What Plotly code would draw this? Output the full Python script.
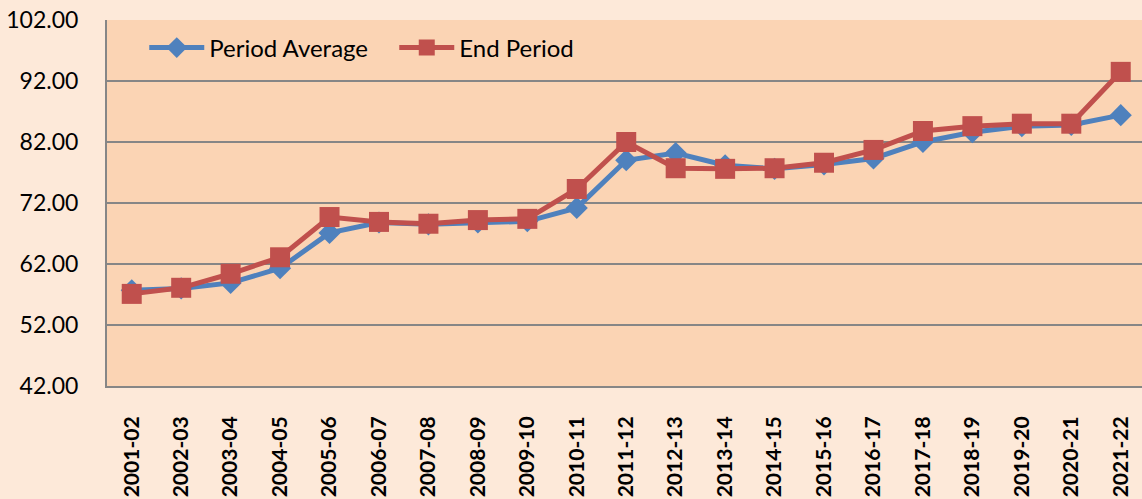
import plotly.graph_objects as go

years = ["2001-02", "2002-03", "2003-04", "2004-05", "2005-06", "2006-07", "2007-08",
         "2008-09", "2009-10", "2010-11", "2011-12", "2012-13", "2013-14", "2014-15",
         "2015-16", "2016-17", "2017-18", "2018-19", "2019-20", "2020-21", "2021-22"]
period_average = [57.7, 58.0, 58.9, 61.3, 67.1, 68.8, 68.5, 68.8, 69.0, 71.2, 79.0,
                  80.2, 78.2, 77.6, 78.3, 79.3, 82.0, 83.6, 84.6, 84.8, 86.4]
end_period = [57.1, 58.1, 60.4, 63.1, 69.7, 68.9, 68.6, 69.2, 69.4, 74.3, 82.0,
              77.7, 77.6, 77.7, 78.6, 80.7, 83.8, 84.6, 85.0, 85.0, 93.5]
y_ticks = [42, 52, 62, 72, 82, 92, 102]

fig = go.Figure()
fig.add_trace(go.Scatter(x=years, y=period_average, name="Period Average",
                         mode="lines+markers",
                         line=dict(color="#4F81BD", width=5),
                         marker=dict(symbol="diamond", size=17, color="#4F81BD")))
fig.add_trace(go.Scatter(x=years, y=end_period, name="End Period",
                         mode="lines+markers",
                         line=dict(color="#C0504D", width=5),
                         marker=dict(symbol="square", size=20, color="#C0504D")))

fig.update_layout(
    width=1142, height=499,
    margin=dict(l=107, r=0, t=20, b=113),
    paper_bgcolor="#FDE9D9",
    plot_bgcolor="#FBD4B4",
    font=dict(family="Lato", color="#000000"),
    showlegend=True,
    legend=dict(orientation="h", x=0.036, y=0.9235, xanchor="left", yanchor="middle",
                bgcolor="rgba(0,0,0,0)", font=dict(size=24), itemwidth=55,
                entrywidth=180),
    xaxis=dict(type="category", range=[-0.5, 20.43], showgrid=False,
               showline=True, linecolor="#868686", linewidth=2,
               tickangle=-90, tickfont=dict(size=21, weight="bold"),
               ticks="", ticklabelstandoff=20),
    yaxis=dict(range=[42, 102], tickvals=y_ticks,
               ticktext=[f"{v:.2f}" for v in y_ticks],
               showgrid=True, gridcolor="#868686", gridwidth=2,
               showline=True, linecolor="#868686", linewidth=2,
               tickfont=dict(size=23), ticks="", ticklabelstandoff=22,
               zeroline=False),
)

# drop the browser's default page margin so the figure sits at the window corner
fig.write_html("out.html", config={"displayModeBar": False},
               post_script="document.body.style.margin='0';")
